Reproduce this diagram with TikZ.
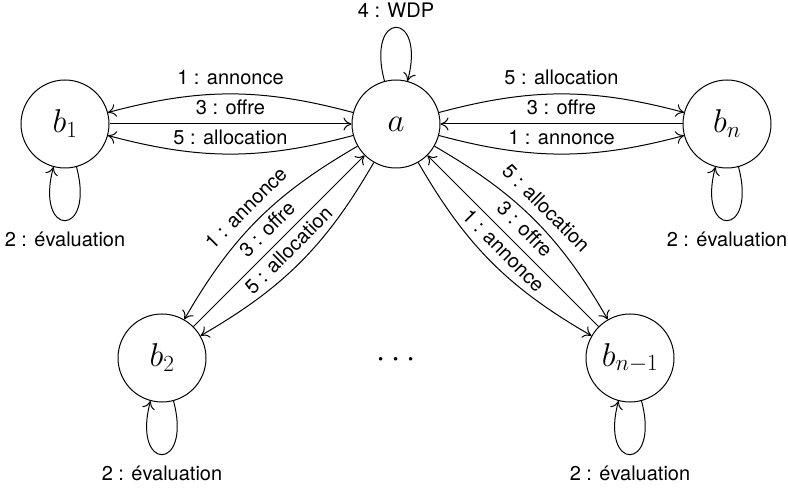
\RequirePackage{fix-cm}
\documentclass[tikz,border=0pt]{standalone}
\usepackage[no-math]{fontspec}
\newfontfamily\lblfont{TeX Gyre Heros}
\usetikzlibrary{arrows.meta}
\begin{document}
\begin{tikzpicture}[x=1pt,y=1pt,
  state/.style={draw, circle, line width=1pt, minimum size=88pt, inner sep=0pt, font=\fontsize{33}{40}\selectfont},
  lbl/.style={font=\lblfont\fontsize{20}{24}\selectfont, inner xsep=0pt, inner ysep=9pt, anchor=south},
  lblb/.style={font=\lblfont\fontsize{20}{24}\selectfont, inner xsep=0pt, inner ysep=11pt, anchor=north},
  edge/.style={line width=1pt, -{Computer Modern Rightarrow[length=8pt,width=13pt]}},
  loopto/.style={distance=74pt},
]
\useasboundingbox (0,0) rectangle (788,488);
\node[state] (a) at (396,364) {$a$};
\node[state] (b1) at (65,364) {$b_1$};
\node[state] (bn) at (727,364) {$b_n$};
\node[state] (b2) at (162,130) {$b_2$};
\node[state] (bm) at (630,130) {$b_{n-1}$};
\node[font=\fontsize{33}{40}\selectfont, inner sep=0pt] (dots) at (396,128) {$\cdots$};

% a -- b1
\draw[edge] (a) to[bend right=15] node[lbl] {1 : annonce} (b1);
\draw[edge] (b1) -- node[lbl] {3 : offre} (a);
\draw[edge] (a) to[bend left=15] node[lbl] {5 : allocation} (b1);

% a -- bn
\draw[edge] (a) to[bend left=15] node[lbl] {5 : allocation} (bn);
\draw[edge] (bn) -- node[lbl] {3 : offre} (a);
\draw[edge] (a) to[bend right=15] node[lbl] {1 : annonce} (bn);

% a -- b2
\draw[edge] (a) to[bend right=15] node[lbl, sloped] {1 : annonce} (b2);
\draw[edge] (b2) -- node[lbl, sloped] {3 : offre} (a);
\draw[edge] (a) to[bend left=15] node[lbl, sloped] {5 : allocation} (b2);

% a -- b_{n-1}
\draw[edge] (a) to[bend left=15] node[lbl, sloped] {5 : allocation} (bm);
\draw[edge] (bm) -- node[lbl, sloped] {3 : offre} (a);
\draw[edge] (a) to[bend right=15] node[lbl, sloped] {1 : annonce} (bm);

% loops
\draw[edge] (a) to[out=105, in=75, loopto] node[lbl] {4 : WDP} (a);
\draw[edge] (b1) to[out=-75, in=-105, loopto] node[lblb] {2 : évaluation} (b1);
\draw[edge] (bn) to[out=-75, in=-105, loopto] node[lblb] {2 : évaluation} (bn);
\draw[edge] (b2) to[out=-75, in=-105, loopto] node[lblb] {2 : évaluation} (b2);
\draw[edge] (bm) to[out=-75, in=-105, loopto] node[lblb] {2 : évaluation} (bm);
\end{tikzpicture}
\end{document}
